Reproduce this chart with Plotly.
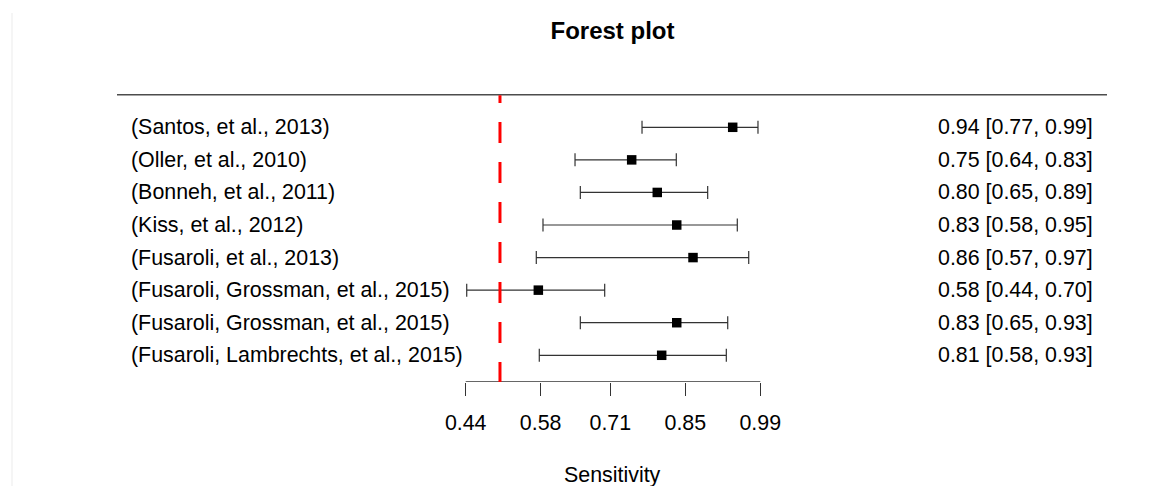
import plotly.graph_objects as go

# ---- data ----
studies = [
    "(Santos, et al., 2013)",
    "(Oller, et al., 2010)",
    "(Bonneh, et al., 2011)",
    "(Kiss, et al., 2012)",
    "(Fusaroli, et al., 2013)",
    "(Fusaroli, Grossman, et al., 2015)",
    "(Fusaroli, Grossman, et al., 2015)",
    "(Fusaroli, Lambrechts, et al., 2015)",
]
estimate = [0.9385, 0.7499, 0.7977, 0.8340, 0.8644, 0.5756, 0.8340, 0.8059]
ci_lower = [0.7692, 0.6441, 0.6540, 0.5843, 0.5718, 0.4419, 0.6540, 0.5774]
ci_upper = [0.9857, 0.8332, 0.8918, 0.9471, 0.9684, 0.6995, 0.9292, 0.9266]
tick_values = [0.44, 0.58, 0.71, 0.85, 0.99]
tick_labels = ["0.44", "0.58", "0.71", "0.85", "0.99"]
ref_line = 0.504
title_text = "Forest plot"
x_label = "Sensitivity"

# ---- geometry ----
W, H = 1149, 486
FONT = "Liberation Sans, Arial, Helvetica, sans-serif"
FS = 21.4
n = len(studies)
rows = list(range(n, 0, -1))  # top row = n

px_per_unit = 535.6
x_left = tick_values[0] - 465.7 / px_per_unit
x_right = tick_values[0] + (W - 465.7) / px_per_unit

axis_px = 382.0
row_px = 32.57
top_row_px = 127.3
y_bottom = n - (axis_px - top_row_px) / row_px
y_top = n + top_row_px / row_px
y_dom0 = 1 - axis_px / H

err_plus = [u - e for u, e in zip(ci_upper, estimate)]
err_minus = [e - l for e, l in zip(estimate, ci_lower)]

fig = go.Figure()
fig.add_trace(go.Scatter(
    x=estimate, y=rows, mode="markers",
    marker=dict(symbol="square", size=9.5, color="black", line=dict(width=0)),
    error_x=dict(type="data", symmetric=False, array=err_plus, arrayminus=err_minus,
                 color="#333333", thickness=1.2, width=6.5),
    showlegend=False, hoverinfo="skip",
))

annotations = []
for r, name, e, lo, hi in zip(rows, studies, estimate, ci_lower, ci_upper):
    annotations.append(dict(
        xref="paper", yref="y", x=128.5 / W, y=r, xanchor="left", yanchor="middle",
        text=name, showarrow=False, font=dict(family=FONT, size=FS, color="black")))
    annotations.append(dict(
        xref="paper", yref="y", x=1095 / W, y=r, xanchor="right", yanchor="middle",
        text=f"{e:.2f} [{lo:.2f}, {hi:.2f}]", showarrow=False,
        font=dict(family=FONT, size=FS, color="black")))
annotations.append(dict(
    xref="paper", yref="paper", x=612 / W, y=1 - 474.5 / H, xanchor="center", yanchor="middle",
    text=x_label, showarrow=False, font=dict(family=FONT, size=FS, color="black")))

shapes = [
    # faint border at left
    dict(type="line", xref="paper", yref="paper", x0=12 / W, x1=12 / W, y0=0, y1=1 - 13 / H,
         line=dict(color="#ebebeb", width=1)),
    # top rule
    dict(type="line", xref="paper", yref="y", x0=117 / W, x1=1107 / W, y0=n + 1, y1=n + 1,
         line=dict(color="#4d4d4d", width=1.5)),
    # x axis line
    dict(type="line", xref="x", yref="y", x0=tick_values[0], x1=tick_values[-1],
         y0=y_bottom, y1=y_bottom, line=dict(color="#333333", width=1.3)),
    # reference line
    dict(type="line", xref="x", yref="y", x0=ref_line, x1=ref_line,
         y0=y_bottom - 1 / row_px, y1=n + 1 - 0.5 / row_px,
         line=dict(color="#ff0000", width=3, dash="21px,19px")),
]

fig.update_layout(
    width=W, height=H, autosize=False,
    margin=dict(l=0, r=0, t=0, b=0, pad=0),
    paper_bgcolor="white", plot_bgcolor="white",
    title=dict(text=f"<b>{title_text}</b>", x=612.5 / W, xanchor="center",
               y=1 - 30.5 / H, yanchor="middle",
               font=dict(family=FONT, size=24, color="black")),
    xaxis=dict(domain=[0, 1], range=[x_left, x_right], tickvals=tick_values, ticktext=tick_labels,
               ticks="outside", ticklen=13, tickwidth=1.3, tickcolor="#333333",
               showline=False, showgrid=False, zeroline=False,
               tickfont=dict(family=FONT, size=FS, color="black"),
               ticklabelstandoff=8),
    yaxis=dict(domain=[y_dom0, 1], range=[y_bottom, y_top], visible=False,
               showgrid=False, zeroline=False),
    shapes=shapes, annotations=annotations,
)

fig.write_html("out.html", config={"displayModeBar": False},
               post_script="document.body.style.margin='0';document.body.style.overflow='hidden';")
